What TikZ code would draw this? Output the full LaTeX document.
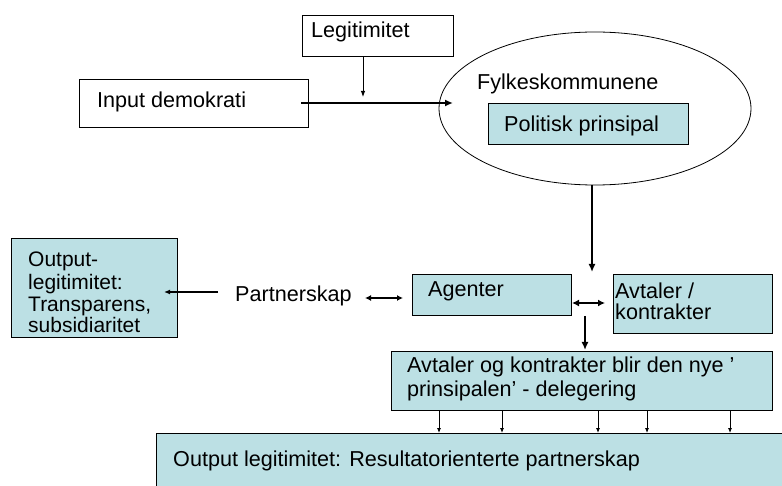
\documentclass[tikz,border=0pt]{standalone}
\usepackage{fontspec}
\setmainfont{Liberation Sans}
\usetikzlibrary{arrows.meta,shapes.geometric}
\definecolor{lblue}{RGB}{188,224,228}
\begin{document}
\begin{tikzpicture}[x=1pt,y=-1pt,
  box/.style={draw=black, line width=0.8pt, anchor=north west, inner sep=0pt},
  bbox/.style={box, fill=lblue},
  txt/.style={anchor=base west, inner sep=0pt, font=\fontsize{21.6}{24}\selectfont},
  stxt/.style={txt, font=\fontsize{21}{24}\selectfont},
  thinarr/.style={line width=0.9pt, -{Latex[length=6pt,width=4.5pt]}},
  thickarr/.style={line width=2.2pt, -{Latex[length=8pt,width=7pt]}},
  dblarr/.style={line width=2.2pt, {Latex[length=7pt,width=7pt]}-{Latex[length=7pt,width=7pt]}},
  medarr/.style={line width=1.5pt, -{Latex[length=6pt,width=5pt]}},
  meddbl/.style={line width=1.8pt, {Latex[length=6pt,width=6pt]}-{Latex[length=6pt,width=6pt]}},
  smallarr/.style={line width=0.8pt, -{Latex[length=5pt,width=4pt]}}
  ]
\useasboundingbox (0,0) rectangle (782,486);
% boxes
\node[box, minimum width=151pt, minimum height=41pt] (leg) at (302,15) {};
\node[box, minimum width=229pt, minimum height=48pt] (inp) at (79,79) {};
\node[draw=black, line width=0.8pt, ellipse, inner sep=0pt, minimum width=312pt, minimum height=153pt] (fyl) at (595,108.5) {};
\node[bbox, minimum width=200pt, minimum height=41pt] (pol) at (488,103) {};
\node[bbox, minimum width=166pt, minimum height=99pt] (outl) at (11,238) {};
\node[bbox, minimum width=159pt, minimum height=41pt] (ag) at (412,274) {};
\node[bbox, minimum width=159pt, minimum height=59pt] (avt) at (613,274) {};
\node[bbox, minimum width=381pt, minimum height=59pt] (big) at (391,351) {};
\node[bbox, minimum width=640pt, minimum height=70pt] (bot) at (156,433) {};
% texts
\node[txt] (tleg) at (311,38) {Legitimitet};
\node[txt] (tinp) at (97,108) {Input demokrati};
\node[txt] (tfyl) at (477,90) {Fylkeskommunene};
\node[txt] (tpol) at (504,132) {Politisk prinsipal};
\node[stxt] (tout1) at (28,267) {Output-};
\node[stxt] (tout2) at (28,290) {legitimitet:};
\node[stxt] (tout3) at (28,312) {Transparens,};
\node[stxt] (tout4) at (28,333) {subsidiaritet};
\node[txt] (tpar) at (235,302) {Partnerskap};
\node[txt] (tag) at (428,297) {Agenter};
\node[txt] (tavt1) at (615,299) {Avtaler /};
\node[txt] (tavt2) at (615,320) {kontrakter};
\node[txt] (tbig1) at (407,372) {Avtaler og kontrakter blir den nye ’};
\node[txt] (tbig2) at (407,396) {prinsipalen’ - delegering};
\node[txt] (tbot) at (173,466) {Output legitimitet: Resultatorienterte partnerskap};
% connector ends
\coordinate (legB) at (363,97);
\coordinate (inpA) at (301,103);
\coordinate (fylW) at (453,103);
\coordinate (fylS) at (592,185);
\coordinate (agN) at (592,272);
\coordinate (agE) at (572,303);
\coordinate (avtW) at (605,303);
\coordinate (midA) at (585,316);
\coordinate (bigN) at (585,350);
\coordinate (parL) at (218,292);
\coordinate (outE) at (164,292);
\coordinate (parR) at (365,298);
\coordinate (agW) at (403,298);
% connectors
\draw[thinarr] (leg.south -| legB) -- (legB);
\draw[thickarr] (inpA) -- (fylW);
\draw[thickarr] (fylS) -- (agN);
\draw[dblarr] (agE) -- (avtW);
\draw[thickarr] (midA) -- (bigN);
\draw[medarr] (parL) -- (outE);
\draw[meddbl] (parR) -- (agW);
\foreach \xx in {439,502,598,647,730}
  \draw[smallarr] (big.south -| \xx,0) -- (bot.north -| \xx,0);
\end{tikzpicture}
\end{document}
